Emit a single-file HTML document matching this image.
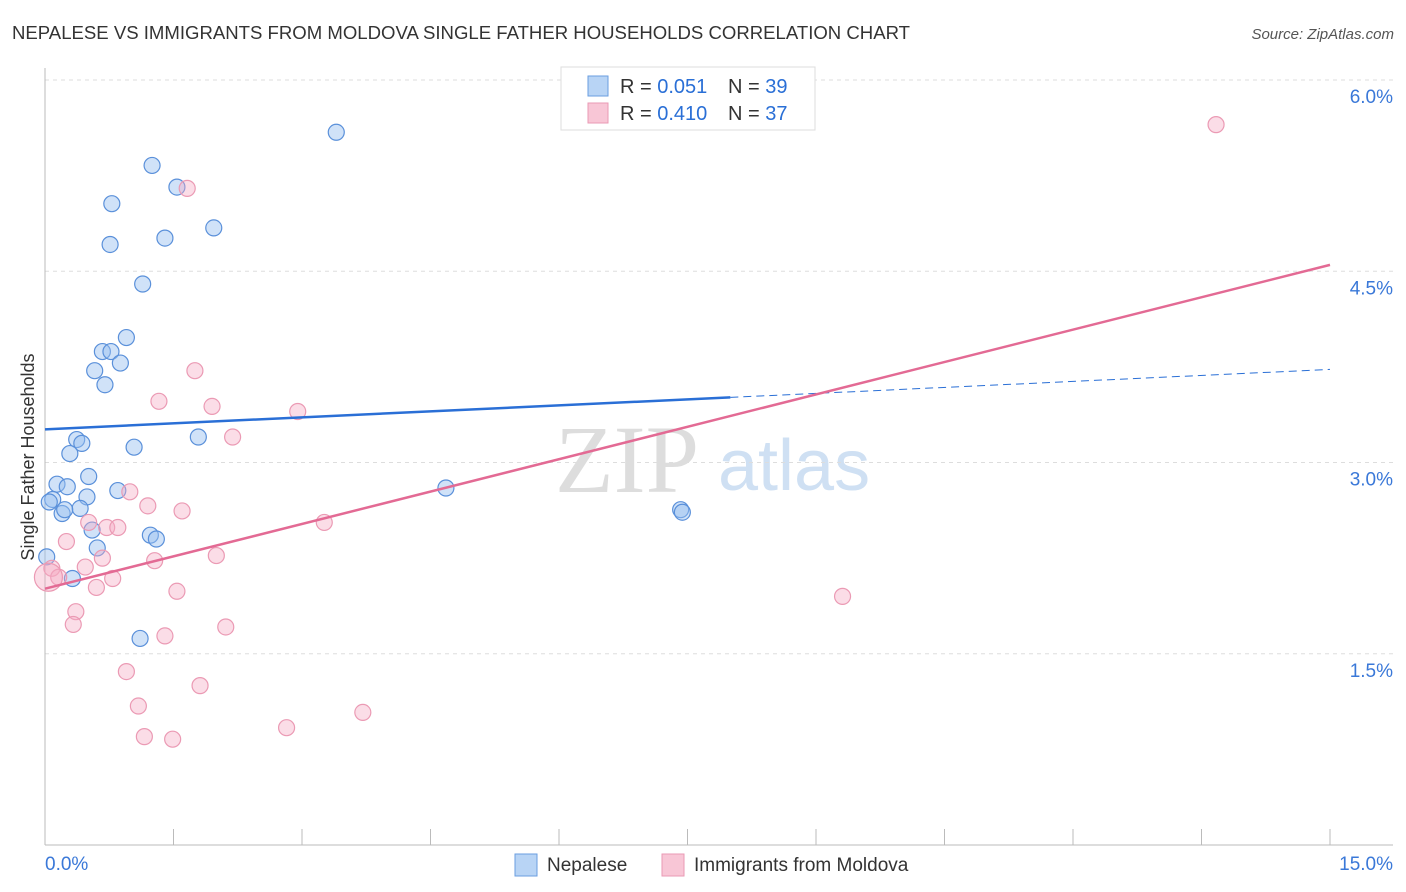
<!DOCTYPE html>
<html><head><meta charset="utf-8"><style>
body{margin:0;background:#fff;font-family:"Liberation Sans",sans-serif}
svg{display:block}
</style></head><body>
<svg id="c" width="1406" height="892" xmlns="http://www.w3.org/2000/svg">
<text x="12" y="39" font-size="18" fill="#333" textLength="898" lengthAdjust="spacingAndGlyphs">NEPALESE VS IMMIGRANTS FROM MOLDOVA SINGLE FATHER HOUSEHOLDS CORRELATION CHART</text>
<text x="1394" y="39" font-size="15" fill="#555" font-style="italic" text-anchor="end">Source: ZipAtlas.com</text>
<text x="34" y="457" font-size="18" fill="#333" text-anchor="middle" transform="rotate(-90 34 457)">Single Father Households</text>
<text x="555" y="492" font-size="96" fill="#ddd" font-family="Liberation Serif,serif">ZIP</text>
<text x="718" y="490" font-size="72" fill="#cfe0f3">atlas</text>
<g id="grid"></g><g id="axes"></g><g id="pts"></g><g id="lines"></g>
<g>
<rect x="561" y="67" width="254" height="63" fill="#fff" stroke="#ddd"/>
<rect x="588" y="76" width="20" height="20" fill="#b8d4f5" stroke="#6a9ee0"/>
<rect x="588" y="103" width="20" height="20" fill="#f8c6d6" stroke="#ea9ab4"/>
<text x="620" y="93" font-size="20" fill="#333">R = <tspan fill="#2a6fd6">0.051</tspan></text>
<text x="728" y="93" font-size="20" fill="#333">N = <tspan fill="#2a6fd6">39</tspan></text>
<text x="620" y="120" font-size="20" fill="#333">R = <tspan fill="#2a6fd6">0.410</tspan></text>
<text x="728" y="120" font-size="20" fill="#333">N = <tspan fill="#2a6fd6">37</tspan></text>
</g>
<g>
<rect x="515" y="854" width="22" height="22" fill="#b8d4f5" stroke="#6a9ee0"/>
<text x="547" y="871" font-size="19" fill="#333">Nepalese</text>
<rect x="662" y="854" width="22" height="22" fill="#f8c6d6" stroke="#ea9ab4"/>
<text x="694" y="871" font-size="19" fill="#333">Immigrants from Moldova</text>
</g>
</svg>
<script>
const xTicks=[0,1.5,3,4.5,6,7.5,9,10.5,12,13.5,15];
const yTicks=[1.5,3.0,4.5,6.0];
const blueX=[3.40,1.25,1.54,0.78,1.40,0.76,1.97,1.14,0.95,0.67,0.77,0.88,0.58,0.70,1.79,1.04,0.37,0.43,0.29,0.51,0.14,0.26,0.49,0.85,0.09,0.05,0.41,0.20,0.23,0.55,0.61,1.23,1.30,4.68,7.42,7.44,0.02,0.32,1.11];
const blueY=[5.59,5.33,5.16,5.03,4.76,4.71,4.84,4.40,3.98,3.87,3.87,3.78,3.72,3.61,3.20,3.12,3.18,3.15,3.07,2.89,2.83,2.81,2.73,2.78,2.71,2.69,2.64,2.60,2.63,2.47,2.33,2.43,2.40,2.80,2.63,2.61,2.26,2.09,1.62];
const pinkX=[13.67,1.66,1.75,1.33,1.95,2.95,2.19,0.99,1.20,1.60,3.26,0.51,0.72,0.85,0.25,0.67,2.00,1.28,0.47,0.08,0.16,0.79,0.60,1.54,0.36,0.33,1.40,2.11,9.31,0.95,1.81,1.09,3.71,2.82,1.16,1.49,0.04];
const pinkY=[5.65,5.15,3.72,3.48,3.44,3.40,3.20,2.77,2.66,2.62,2.53,2.53,2.49,2.49,2.38,2.25,2.27,2.23,2.18,2.17,2.10,2.09,2.02,1.99,1.83,1.73,1.64,1.71,1.95,1.36,1.25,1.09,1.04,0.92,0.85,0.83,2.10];
const blueFit=[3.26,3.73];
const blueSolidEnd=8.0;
const pinkFit=[2.01,4.55];
const X=v=>45+v*(1285/15), Y=v=>845-v*127.5;
const NS="http://www.w3.org/2000/svg";
function mk(p,t,a){const e=document.createElementNS(NS,t);for(const k in a)e.setAttribute(k,a[k]);document.getElementById(p).appendChild(e);return e;}
yTicks.forEach(t=>{
 const g=mk('grid','line',{x1:45,x2:1393,y1:Y(t),y2:Y(t),stroke:'#ddd','stroke-dasharray':'4 4'});
 
 
 const l=mk('grid','text',{x:1393,y:Y(t)+23,'font-size':19,fill:'#3a78d8','text-anchor':'end'});
 l.textContent=t.toFixed(1)+'%';
 
 
});
const ax=mk('axes','line',{x1:45,x2:1393,y1:845,y2:845,stroke:'#bbb'});


const ay=mk('axes','line',{x1:45,x2:45,y1:68,y2:845,stroke:'#bbb'});


xTicks.forEach(t=>{
 const k=mk('axes','line',{x1:X(t),x2:X(t),y1:829,y2:845,stroke:'#bbb'});
 
 
});
[[0,'start'],[15,'end']].forEach(([t,a])=>{
 const l=mk('axes','text',{x:t===0?45:1393,y:870,'font-size':19,fill:'#3a78d8','text-anchor':a});
 l.textContent=t.toFixed(1)+'%';
 
 
});
blueX.forEach((v,i)=>{
 const c=mk('pts','circle',{cx:X(v),cy:Y(blueY[i]),r:8,fill:'rgba(150,190,240,0.45)',stroke:'#5a90da','stroke-width':1.2});
 
 
});
pinkX.forEach((v,i)=>{
 const c=mk('pts','circle',{cx:X(v),cy:Y(pinkY[i]),r:i===pinkX.length-1?14:8,fill:'rgba(245,170,195,0.4)',stroke:'#eb9ab4','stroke-width':1.2});
 
 
});
const by=x=>blueFit[0]+(blueFit[1]-blueFit[0])*x/15;
let l1=mk('lines','line',{x1:X(0),y1:Y(by(0)),x2:X(blueSolidEnd),y2:Y(by(blueSolidEnd)),stroke:'#2a6fd6','stroke-width':2.5});


let l2=mk('lines','line',{x1:X(blueSolidEnd),y1:Y(by(blueSolidEnd)),x2:X(15),y2:Y(by(15)),stroke:'#2a6fd6','stroke-width':1,'stroke-dasharray':'8 5'});


let l3=mk('lines','line',{x1:X(0),y1:Y(pinkFit[0]),x2:X(15),y2:Y(pinkFit[1]),stroke:'#e36a94','stroke-width':2.5});


</script>
</body></html>
